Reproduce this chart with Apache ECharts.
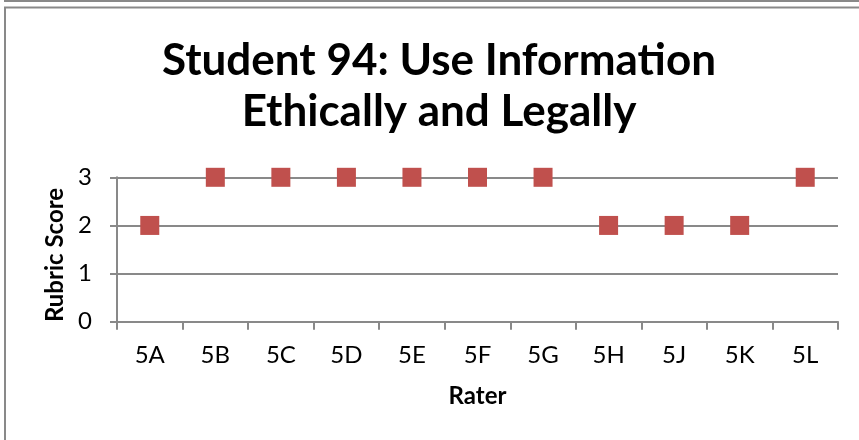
<!DOCTYPE html>
<html>
<head>
<meta charset="utf-8">
<script src="https://cdn.jsdelivr.net/npm/echarts@6/dist/echarts.min.js"></script>
<style>
  html, body { margin: 0; padding: 0; background: #fff; }
  #chart { width: 859px; height: 440px; }
</style>
</head>
<body>
<div id="chart"></div>
<script>
// Raters who scored the student, and the rubric score each gave
const raters = ['5A', '5B', '5C', '5D', '5E', '5F', '5G', '5H', '5J', '5K', '5L'];
const scores = [2, 3, 3, 3, 3, 3, 3, 2, 2, 2, 3];
const titleLines = ['Student 94: Use Information', 'Ethically and Legally'];
const yAxisTitle = 'Rubric Score';
const xAxisTitle = 'Rater';

const FONT = 'Lato, "Open Sans", sans-serif';
const GRAY = '#898989';

const chart = echarts.init(document.getElementById('chart'), null, { renderer: 'canvas' });

chart.setOption({
  animation: false,
  backgroundColor: '#ffffff',
  title: {
    text: titleLines.join('\n'),
    left: 434,
    top: 30,
    textAlign: 'center',
    textStyle: {
      fontFamily: FONT,
      fontWeight: 'bold',
      fontSize: 44,
      lineHeight: 51,
      color: '#000'
    }
  },
  grid: {
    left: 117,
    right: 21,
    top: 177.3,
    bottom: 118.3,
    containLabel: false
  },
  xAxis: {
    type: 'category',
    data: raters,
    boundaryGap: true,
    name: xAxisTitle,
    nameLocation: 'middle',
    nameGap: 63,
    nameTextStyle: { fontFamily: FONT, fontWeight: 'bold', fontSize: 24, color: '#000' },
    axisLine: { show: true, lineStyle: { color: GRAY, width: 2 } },
    axisTick: { show: true, alignWithLabel: false, length: 8, lineStyle: { color: GRAY, width: 2 } },
    axisLabel: { fontFamily: FONT, fontSize: 24, color: '#000', margin: 22 },
    splitLine: { show: false }
  },
  yAxis: {
    type: 'value',
    min: 0,
    max: 3,
    interval: 1,
    name: yAxisTitle,
    nameLocation: 'middle',
    nameGap: 48,
    nameRotate: 90,
    nameTextStyle: { fontFamily: FONT, fontWeight: 'bold', fontSize: 24, color: '#000', padding: [0, 11, 0, 0] },
    axisLine: { show: true, lineStyle: { color: GRAY, width: 2 } },
    axisTick: { show: true, length: 7, lineStyle: { color: GRAY, width: 2 } },
    axisLabel: { fontFamily: FONT, fontSize: 24, color: '#000', margin: 25 },
    splitLine: { show: true, lineStyle: { color: GRAY, width: 2 } }
  },
  series: [{
    type: 'scatter',
    data: scores,
    symbol: 'rect',
    symbolSize: 19,
    itemStyle: { color: '#C0504D', opacity: 1 },
    z: 5
  }],
  graphic: [
    {
      type: 'line',
      shape: { x1: 4, y1: 1, x2: 900, y2: 1 },
      style: { stroke: GRAY, lineWidth: 2 },
      silent: true
    },
    {
      type: 'rect',
      shape: { x: 5, y: 7.5, width: 900, height: 500 },
      style: { fill: 'none', stroke: GRAY, lineWidth: 2 },
      silent: true
    }
  ]
});
</script>
</body>
</html>
